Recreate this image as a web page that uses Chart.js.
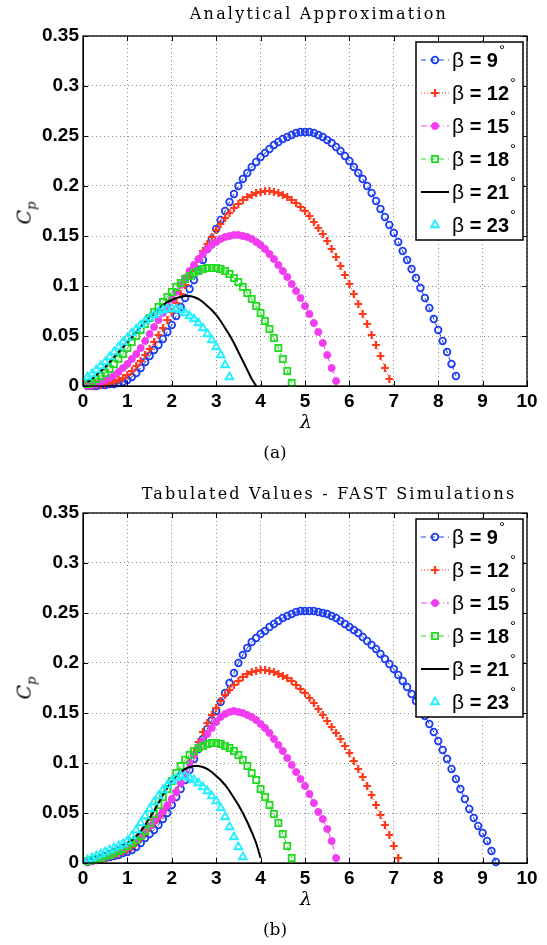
<!DOCTYPE html>
<html>
<head>
<meta charset="utf-8">
<script src="https://cdn.jsdelivr.net/npm/chart.js@4.4.1/dist/chart.umd.min.js"></script>
<style>
  html, body { margin: 0; padding: 0; background: #fff; }
  body { width: 547px; height: 945px; position: relative; overflow: hidden; }
  canvas { position: absolute; left: 0; }
  .lbl { position: absolute; white-space: nowrap; color: #000; font-family: 'DejaVu Serif', serif; line-height: 1; transform: translateX(-50%); }
  .title { font-size: 16px; letter-spacing: 2.2px; }
  .cap { font-size: 17px; }
  .xl { font-style: italic; font-size: 19px; }
  .yl { font-style: italic; font-size: 19px; transform: translate(-50%, -50%) rotate(-90deg); }
  .yl sub { font-size: 13px; }
</style>
</head>
<body>
<canvas id="chartA" width="547" height="470" style="top:0"></canvas>
<canvas id="chartB" width="547" height="468" style="top:477px"></canvas>

<div class="lbl title" style="left:319px; top:6px">Analytical Approximation</div>
<div class="lbl yl" style="left:26px; top:213px">C<sub>p</sub></div>
<div class="lbl xl" style="left:306px; top:412px">λ</div>
<div class="lbl cap" style="left:275px; top:444px">(a)</div>

<div class="lbl title" style="left:329px; top:486px">Tabulated Values - FAST Simulations</div>
<div class="lbl yl" style="left:26px; top:688px">C<sub>p</sub></div>
<div class="lbl xl" style="left:306px; top:889px">λ</div>
<div class="lbl cap" style="left:275px; top:921px">(b)</div>

<script>
// tip speed ratio of the markers (one every 0.1)
const lambdaGrid = [0.1, 0.2, 0.3, 0.4, 0.5, 0.6, 0.7, 0.8, 0.9, 1.0,
  1.1, 1.2, 1.3, 1.4, 1.5, 1.6, 1.7, 1.8, 1.9, 2.0,
  2.1, 2.2, 2.3, 2.4, 2.5, 2.6, 2.7, 2.8, 2.9, 3.0,
  3.1, 3.2, 3.3, 3.4, 3.5, 3.6, 3.7, 3.8, 3.9, 4.0,
  4.1, 4.2, 4.3, 4.4, 4.5, 4.6, 4.7, 4.8, 4.9, 5.0,
  5.1, 5.2, 5.3, 5.4, 5.5, 5.6, 5.7, 5.8, 5.9, 6.0,
  6.1, 6.2, 6.3, 6.4, 6.5, 6.6, 6.7, 6.8, 6.9, 7.0,
  7.1, 7.2, 7.3, 7.4, 7.5, 7.6, 7.7, 7.8, 7.9, 8.0,
  8.1, 8.2, 8.3, 8.4, 8.5, 8.6, 8.7, 8.8, 8.9, 9.0,
  9.1, 9.2, 9.3];

const betaValues = [9, 12, 15, 18, 21, 23];
const xTicks = [0, 1, 2, 3, 4, 5, 6, 7, 8, 9, 10];
const yTicks = [0, 0.05, 0.1, 0.15, 0.2, 0.25, 0.3, 0.35];

// (a) Analytical Approximation
const cpA9 = [0.000, 0.000, 0.000, 0.001, 0.001, 0.002, 0.002, 0.003, 0.004, 0.006,
  0.009, 0.013, 0.018, 0.024, 0.030, 0.036, 0.041, 0.047, 0.054, 0.061,
  0.070, 0.079, 0.088, 0.097, 0.106, 0.116, 0.126, 0.137, 0.147, 0.157,
  0.166, 0.175, 0.184, 0.192, 0.200, 0.207, 0.213, 0.219, 0.224, 0.229,
  0.233, 0.237, 0.241, 0.244, 0.247, 0.249, 0.251, 0.253, 0.254, 0.254,
  0.254, 0.253, 0.251, 0.249, 0.246, 0.243, 0.239, 0.235, 0.230, 0.225,
  0.219, 0.213, 0.207, 0.200, 0.193, 0.185, 0.177, 0.169, 0.161, 0.153,
  0.144, 0.135, 0.126, 0.117, 0.108, 0.098, 0.088, 0.078, 0.067, 0.056,
  0.045, 0.034, 0.022, 0.010];
const cpA12 = [0.000, 0.000, 0.001, 0.001, 0.002, 0.003, 0.004, 0.006, 0.008, 0.011,
  0.015, 0.020, 0.025, 0.031, 0.037, 0.044, 0.051, 0.058, 0.066, 0.074,
  0.083, 0.092, 0.101, 0.110, 0.118, 0.127, 0.135, 0.142, 0.149, 0.156,
  0.162, 0.168, 0.173, 0.178, 0.182, 0.186, 0.189, 0.191, 0.193, 0.194,
  0.195, 0.195, 0.194, 0.193, 0.191, 0.189, 0.186, 0.183, 0.179, 0.175,
  0.170, 0.164, 0.158, 0.152, 0.145, 0.137, 0.129, 0.120, 0.111, 0.102,
  0.092, 0.082, 0.072, 0.062, 0.051, 0.041, 0.030, 0.018, 0.007];
const cpA15 = [0.000, 0.001, 0.002, 0.004, 0.006, 0.008, 0.011, 0.014, 0.018, 0.022,
  0.027, 0.032, 0.038, 0.045, 0.052, 0.059, 0.066, 0.073, 0.080, 0.087,
  0.094, 0.101, 0.108, 0.115, 0.121, 0.127, 0.132, 0.137, 0.141, 0.144,
  0.147, 0.149, 0.150, 0.151, 0.151, 0.150, 0.149, 0.147, 0.144, 0.141,
  0.137, 0.132, 0.127, 0.121, 0.115, 0.109, 0.102, 0.095, 0.088, 0.080,
  0.072, 0.063, 0.054, 0.043, 0.031, 0.018, 0.005];
const cpA18 = [0.002, 0.004, 0.007, 0.010, 0.013, 0.017, 0.022, 0.027, 0.032, 0.038,
  0.044, 0.050, 0.056, 0.062, 0.068, 0.074, 0.079, 0.084, 0.089, 0.094,
  0.099, 0.103, 0.107, 0.110, 0.113, 0.115, 0.117, 0.118, 0.118, 0.118,
  0.117, 0.115, 0.112, 0.108, 0.104, 0.099, 0.093, 0.087, 0.080, 0.073,
  0.065, 0.057, 0.048, 0.038, 0.027, 0.015, 0.003];
const cpA21 = [0.004, 0.007, 0.011, 0.015, 0.019, 0.024, 0.029, 0.034, 0.039, 0.044,
  0.049, 0.054, 0.059, 0.064, 0.069, 0.073, 0.077, 0.081, 0.084, 0.086,
  0.088, 0.089, 0.090, 0.090, 0.089, 0.087, 0.084, 0.080, 0.076, 0.071,
  0.065, 0.058, 0.051, 0.043, 0.034, 0.025, 0.016, 0.007, 0.000];
const cpA23 = [0.009, 0.012, 0.016, 0.020, 0.024, 0.029, 0.034, 0.039, 0.044, 0.048,
  0.053, 0.057, 0.061, 0.065, 0.068, 0.071, 0.074, 0.076, 0.077, 0.077,
  0.077, 0.076, 0.073, 0.070, 0.067, 0.063, 0.058, 0.052, 0.046, 0.039,
  0.031, 0.021, 0.009];

// (b) Tabulated Values - FAST Simulations
const cpB9 = [0.001, 0.002, 0.003, 0.004, 0.005, 0.006, 0.007, 0.008, 0.010, 0.011,
  0.013, 0.016, 0.020, 0.025, 0.029, 0.033, 0.038, 0.044, 0.050, 0.058,
  0.066, 0.074, 0.083, 0.093, 0.104, 0.114, 0.124, 0.134, 0.143, 0.152,
  0.161, 0.170, 0.180, 0.190, 0.200, 0.208, 0.215, 0.221, 0.225, 0.229,
  0.232, 0.236, 0.239, 0.242, 0.245, 0.247, 0.249, 0.251, 0.252, 0.252,
  0.252, 0.252, 0.251, 0.250, 0.249, 0.247, 0.245, 0.242, 0.239, 0.236,
  0.233, 0.230, 0.226, 0.222, 0.218, 0.214, 0.209, 0.204, 0.199, 0.194,
  0.188, 0.182, 0.176, 0.169, 0.162, 0.155, 0.147, 0.139, 0.131, 0.122,
  0.113, 0.104, 0.094, 0.084, 0.074, 0.064, 0.054, 0.045, 0.037, 0.030,
  0.022, 0.012, 0.001];
const cpB12 = [0.001, 0.002, 0.003, 0.004, 0.005, 0.007, 0.008, 0.009, 0.011, 0.013,
  0.016, 0.020, 0.025, 0.030, 0.035, 0.040, 0.045, 0.050, 0.057, 0.064,
  0.072, 0.081, 0.091, 0.101, 0.111, 0.121, 0.131, 0.140, 0.148, 0.155,
  0.162, 0.168, 0.173, 0.178, 0.182, 0.186, 0.189, 0.191, 0.192, 0.193,
  0.193, 0.192, 0.191, 0.189, 0.187, 0.185, 0.182, 0.178, 0.174, 0.170,
  0.165, 0.160, 0.154, 0.148, 0.142, 0.136, 0.130, 0.124, 0.117, 0.110,
  0.102, 0.094, 0.086, 0.077, 0.068, 0.058, 0.048, 0.038, 0.028, 0.017,
  0.005];
const cpB15 = [0.001, 0.002, 0.003, 0.005, 0.006, 0.007, 0.009, 0.011, 0.013, 0.016,
  0.020, 0.024, 0.028, 0.033, 0.037, 0.042, 0.047, 0.052, 0.058, 0.064,
  0.071, 0.080, 0.090, 0.100, 0.108, 0.116, 0.122, 0.129, 0.135, 0.141,
  0.146, 0.149, 0.151, 0.152, 0.151, 0.150, 0.148, 0.146, 0.143, 0.139,
  0.135, 0.130, 0.124, 0.118, 0.112, 0.105, 0.098, 0.091, 0.084, 0.077,
  0.069, 0.060, 0.051, 0.044, 0.034, 0.022, 0.005];
const cpB18 = [0.002, 0.003, 0.004, 0.005, 0.007, 0.008, 0.010, 0.012, 0.014, 0.017,
  0.020, 0.023, 0.027, 0.032, 0.040, 0.049, 0.058, 0.066, 0.074, 0.082,
  0.090, 0.097, 0.103, 0.108, 0.112, 0.115, 0.117, 0.119, 0.120, 0.120,
  0.119, 0.117, 0.115, 0.112, 0.108, 0.103, 0.097, 0.090, 0.083, 0.074,
  0.066, 0.058, 0.049, 0.040, 0.029, 0.017, 0.005];
const cpB21 = [0.002, 0.004, 0.006, 0.008, 0.010, 0.012, 0.014, 0.016, 0.018, 0.020,
  0.023, 0.027, 0.032, 0.038, 0.045, 0.052, 0.060, 0.068, 0.075, 0.082,
  0.087, 0.091, 0.094, 0.096, 0.097, 0.097, 0.096, 0.094, 0.091, 0.087,
  0.083, 0.078, 0.072, 0.065, 0.058, 0.050, 0.041, 0.031, 0.020, 0.005];
const cpB23 = [0.003, 0.005, 0.007, 0.009, 0.011, 0.013, 0.015, 0.017, 0.019, 0.022,
  0.027, 0.033, 0.040, 0.047, 0.054, 0.061, 0.067, 0.073, 0.078, 0.082,
  0.085, 0.087, 0.087, 0.085, 0.083, 0.080, 0.076, 0.072, 0.067, 0.062,
  0.055, 0.046, 0.036, 0.026, 0.016, 0.006];

// matlab-like line / marker styles, one per beta
const none = 'rgba(0,0,0,0)';
const seriesStyles = [
  { borderColor: '#1c3cf2', borderWidth: 1, borderDash: [5, 4], pointStyle: 'circle', pointRadius: 3.3,
    pointBorderWidth: 1.8, pointBorderColor: '#1c3cf2', pointBackgroundColor: none },
  { borderColor: '#ff3a1c', borderWidth: 1, borderDash: [1, 2], pointStyle: 'cross', pointRadius: 3.9,
    pointBorderWidth: 2.2, pointBorderColor: '#ff3a1c', pointBackgroundColor: none },
  { borderColor: '#f23cf0', borderWidth: 1, borderDash: [6, 3, 1, 3], pointStyle: 'circle', pointRadius: 3.5,
    pointBorderWidth: 1, pointBorderColor: '#f23cf0', pointBackgroundColor: '#f23cf0' },
  { borderColor: '#1fdc1f', borderWidth: 1, borderDash: [5, 4], pointStyle: 'rect', pointRadius: 4.3,
    pointBorderWidth: 1.8, pointBorderColor: '#1fdc1f', pointBackgroundColor: none },
  { borderColor: '#000000', borderWidth: 2, borderDash: [], pointStyle: 'circle', pointRadius: 0,
    pointBorderWidth: 0, pointBorderColor: '#000', pointBackgroundColor: none },
  { borderColor: '#1ef0ff', borderWidth: 1, borderDash: [], showLine: false, pointStyle: 'triangle', pointRadius: 4.5,
    pointBorderWidth: 1.8, pointBorderColor: '#1ef0ff', pointBackgroundColor: none }
];

// box around the axes with small inward ticks
const framePlugin = {
  id: 'frame',
  afterDraw(chart) {
    const { ctx, chartArea: a, scales } = chart;
    ctx.save();
    ctx.strokeStyle = '#000';
    ctx.lineWidth = 1.3;
    ctx.setLineDash([]);
    ctx.strokeRect(a.left, a.top, a.right - a.left, a.bottom - a.top);
    ctx.lineWidth = 1;
    ctx.beginPath();
    xTicks.forEach(v => {
      const px = Math.round(scales.x.getPixelForValue(v)) + 0.5;
      ctx.moveTo(px, a.bottom); ctx.lineTo(px, a.bottom - 5);
      ctx.moveTo(px, a.top); ctx.lineTo(px, a.top + 5);
    });
    yTicks.forEach(v => {
      const py = Math.round(scales.y.getPixelForValue(v)) + 0.5;
      ctx.moveTo(a.left, py); ctx.lineTo(a.left + 5, py);
      ctx.moveTo(a.right, py); ctx.lineTo(a.right - 5, py);
    });
    ctx.stroke();
    ctx.restore();
  }
};

// legend box in the upper right corner, drawn from the dataset styles
const legendPlugin = {
  id: 'betaLegend',
  afterDraw(chart) {
    const { ctx, chartArea: a } = chart;
    const w = 107, h = 198;
    const bx = a.right - w - 4, by = a.top + 6;
    ctx.save();
    ctx.fillStyle = '#fff';
    ctx.fillRect(bx, by, w, h);
    ctx.strokeStyle = '#000';
    ctx.lineWidth = 1.5;
    ctx.strokeRect(bx, by, w, h);
    chart.data.datasets.forEach((ds, i) => {
      const cy = by + 18 + i * 33;
      if (ds.showLine !== false) {
        ctx.setLineDash(ds.borderDash || []);
        ctx.strokeStyle = ds.borderColor;
        ctx.lineWidth = ds.borderWidth;
        ctx.beginPath();
        ctx.moveTo(bx + 5, cy); ctx.lineTo(bx + 33, cy);
        ctx.stroke();
        ctx.setLineDash([]);
      }
      if (ds.pointRadius > 0) {
        ctx.strokeStyle = ds.pointBorderColor;
        ctx.fillStyle = ds.pointBackgroundColor;
        ctx.lineWidth = ds.pointBorderWidth;
        Chart.helpers.drawPoint(ctx, { pointStyle: ds.pointStyle, radius: ds.pointRadius, rotation: 0,
          borderWidth: ds.pointBorderWidth }, bx + 19, cy);
      }
      // "β = 9°"
      ctx.fillStyle = '#000';
      ctx.textBaseline = 'middle';
      ctx.textAlign = 'left';
      let tx = bx + 36;
      ctx.font = '21px "Liberation Sans"';
      ctx.fillText('β', tx, cy + 1);
      tx += ctx.measureText('β').width;
      ctx.font = 'bold 20px "Liberation Sans"';
      const mid = ' = ' + betaValues[i];
      ctx.fillText(mid, tx, cy + 1);
      tx += ctx.measureText(mid).width;
      ctx.font = '15px "Liberation Sans"';
      ctx.fillText('°', tx + 1, cy - 9);
    });
    ctx.restore();
  }
};

function makeChart(id, series, xAxisHeight) {
  return new Chart(document.getElementById(id), {
    type: 'line',
    data: {
      datasets: series.map((vals, i) => Object.assign({
        label: 'β = ' + betaValues[i] + '°',
        data: vals.map((v, k) => ({ x: lambdaGrid[k], y: v })),
        fill: false,
        tension: 0,
        clip: false,
        order: 5 - i
      }, seriesStyles[i]))
    },
    options: {
      responsive: false,
      animation: false,
      events: [],
      layout: { padding: { top: 36, right: 20, left: 0, bottom: 0 } },
      scales: {
        x: {
          type: 'linear',
          min: 0,
          max: 10,
          afterBuildTicks: s => { s.ticks = xTicks.map(v => ({ value: v })); },
          afterFit: s => { s.height = xAxisHeight; },
          ticks: {
            color: '#000',
            font: { family: 'Liberation Sans', size: 19, weight: 'bold' },
            padding: 4,
            maxRotation: 0,
            autoSkip: false,
            callback: v => String(v)
          },
          grid: { color: 'rgba(0,0,0,0.45)', lineWidth: 1, drawTicks: false },
          border: { display: true, color: '#000', dash: [1, 3] }
        },
        y: {
          type: 'linear',
          min: 0,
          max: 0.35,
          afterBuildTicks: s => { s.ticks = yTicks.map(v => ({ value: v })); },
          afterFit: s => { s.width = 83; },
          ticks: {
            color: '#000',
            font: { family: 'Liberation Sans', size: 19, weight: 'bold' },
            padding: 4,
            autoSkip: false,
            callback: v => String(v)
          },
          grid: { color: 'rgba(0,0,0,0.45)', lineWidth: 1, drawTicks: false },
          border: { display: true, color: '#000', dash: [1, 3] }
        }
      },
      plugins: {
        legend: { display: false },
        tooltip: { enabled: false },
        title: { display: false }
      }
    },
    plugins: [framePlugin, legendPlugin]
  });
}

makeChart('chartA', [cpA9, cpA12, cpA15, cpA18, cpA21, cpA23], 84);
makeChart('chartB', [cpB9, cpB12, cpB15, cpB18, cpB21, cpB23], 82);
</script>
</body>
</html>
